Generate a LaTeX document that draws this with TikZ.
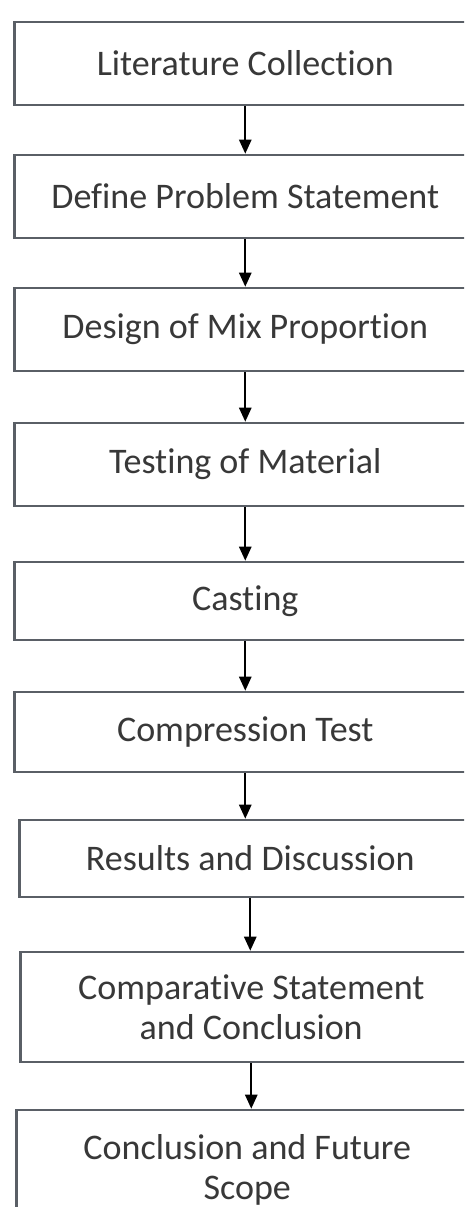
\documentclass[tikz,border=0pt]{standalone}
\usepackage{fontspec}
\setmainfont[Ligatures={NoCommon}]{Carlito}
\usepackage{tikz}
\usetikzlibrary{arrows.meta}
\definecolor{boxline}{HTML}{5A5F66}
\definecolor{boxtext}{HTML}{383838}
\tikzset{
  stage/.style={draw=boxline, line width=1.5pt, anchor=west, minimum width=9.24cm,
    align=center, text=boxtext, font=\fontsize{20.5}{23}\selectfont, inner sep=0pt},
  flow/.style={line width=1.1pt, -{Triangle[width=7pt,length=8pt]}}
}

\begin{document}
\begin{tikzpicture}[x=0.02cm, y=-0.02cm]
		%%%%% START %%%%%
		\clip (0, 0) rectangle (464, 1207);
		\fill[white] (0, 0) rectangle (464, 1207);
		
		\node[stage, minimum height=1.66cm] (lit) at (13, 63.5) {Literature Collection};
		\node[stage, minimum height=1.66cm] (prob) at (13, 196.5) {Define Problem Statement};
		\node[stage, minimum height=1.66cm] (mix) at (13, 329.5) {Design of Mix Proportion};
		\node[stage, minimum height=1.66cm] (mat) at (13, 464.5) {Testing of Material};
		\node[stage, minimum height=1.56cm] (cast) at (13, 601) {Casting};
		\node[stage, minimum height=1.60cm] (comp) at (13, 732) {Compression Test};
		\node[stage, minimum height=1.54cm] (res) at (18, 858.5) {Results and Discussion};
		\node[stage, minimum height=2.20cm] (cmpst) at (19, 1007) {Comparative Statement\\and Conclusion};
		\node[stage, minimum height=2.40cm] (fut) at (15, 1170) {Conclusion and Future\\Scope};
		
		\draw[flow] (lit.south) -- (lit.south |- prob.north);
		\draw[flow] (prob.south) -- (prob.south |- mix.north);
		\draw[flow] (mix.south) -- (mix.south |- mat.north);
		\draw[flow] (mat.south) -- (mat.south |- cast.north);
		\draw[flow] (cast.south) -- (cast.south |- comp.north);
		\draw[flow] (comp.south) -- (comp.south |- res.north);
		\draw[flow] (res.south) -- (res.south |- cmpst.north);
		\draw[flow] (cmpst.south) -- (cmpst.south |- fut.north);
		%%%%% END %%%%%
\end{tikzpicture}
\end{document}
